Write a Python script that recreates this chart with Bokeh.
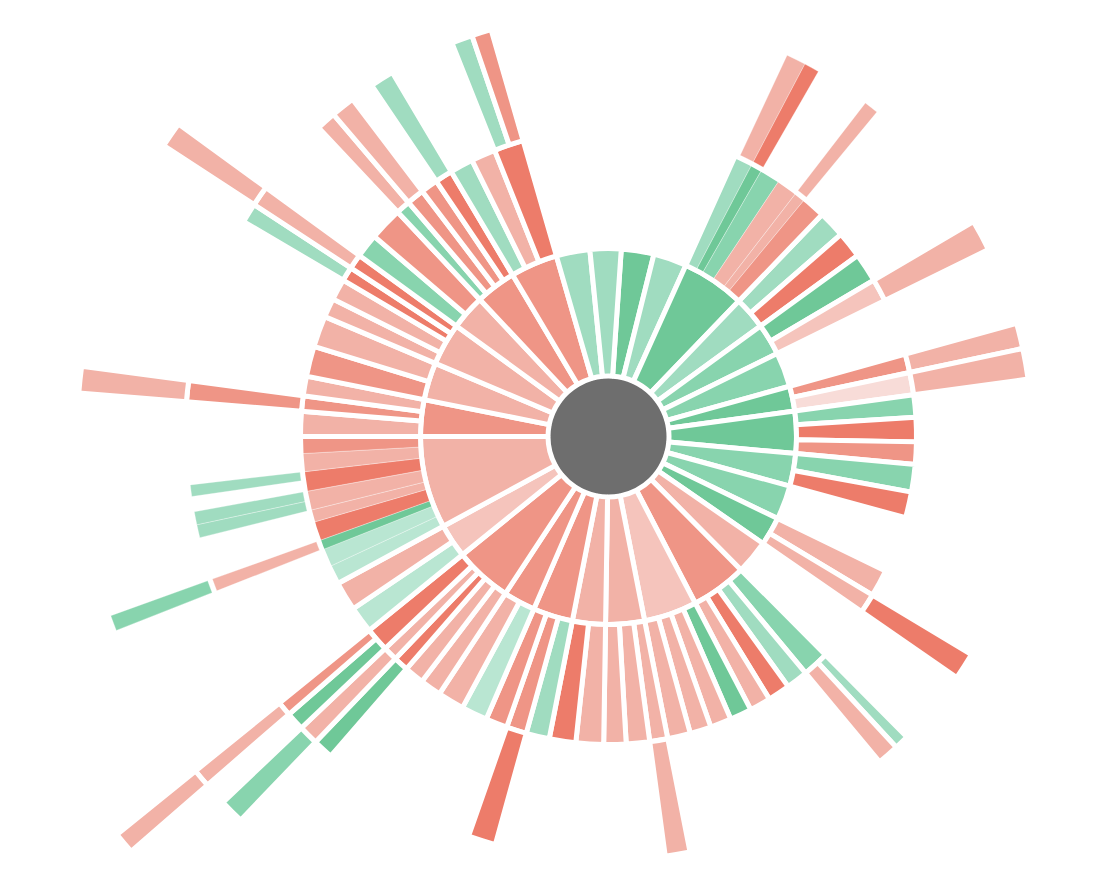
import math
from bokeh.plotting import figure
from bokeh.models import Range1d
from bokeh.embed import file_html
from bokeh.resources import INLINE

PALETTE = {
    "g1": "#b9e6d2", "g2": "#a0dcc0", "g3": "#88d4ae", "g4": "#6fc898",
    "r0": "#f8dcd8", "r1": "#f5c4bc", "r2": "#f2b2a7", "r3": "#ef9586", "r4": "#ed7c6a",
}
CENTER_COLOR = "#6e6e6e"

# ---- level 1 (inner ring), clockwise from the start angle ----
L1_SPAN = [10.1, 10.3, 19.6, 10.1, 9.8, 10.7, 7.7, 13.0, 10.1, 10.6,
           8.8, 10.5, 17.3, 16.4, 12.0, 10.2, 12.3, 9.9, 17.7, 10.5,
           28.5, 11.3, 11.6, 13.1, 10.8, 12.5, 14.6, 10.4, 9.6]
L1_COLOR = ["g4", "g2", "g4", "g2", "g3", "g3", "g4", "g4", "g3", "g3",
            "g4", "r2", "r3", "r1", "r2", "r2", "r3", "r3", "r3", "r1",
            "r2", "r3", "r2", "r2", "r2", "r3", "r3", "g2", "g2"]

# ---- level 2 ----
L2_PARENT = [2, 2, 2, 2, 2, 2, 3, 3, 4, 4, 6, 6, 7, 7, 7, 8, 8, 10, 10,
             12, 12, 12, 12, 13, 13, 13, 13, 14, 14, 14, 15, 15, 16, 16, 16,
             17, 17, 18, 18, 18, 18, 18, 19, 19,
             20, 20, 20, 20, 20, 20, 20, 20, 20,
             21, 21, 21, 22, 22, 23, 23, 23, 23, 24, 24, 25, 25, 25, 25, 26, 26, 26]
L2_SPAN = [3.5, 2.1, 3.8, 3.9, 2.0, 4.3, 5.1, 5.0, 5.5, 4.3, 3.5, 4.2, 4.2, 4.6, 4.2, 5.2, 4.9, 5.1, 3.7,
           5.0, 4.1, 4.2, 4.0, 4.1, 4.0, 4.0, 4.3, 3.4, 4.4, 4.2, 5.2, 5.0, 4.4, 3.8, 4.1,
           4.9, 5.0, 4.0, 3.7, 2.8, 2.7, 4.5, 5.0, 5.5,
           3.5, 3.4, 1.8, 3.6, 2.3, 3.6, 3.7, 3.4, 3.2,
           4.7, 2.9, 3.7, 5.7, 5.9, 3.6, 4.0, 2.7, 2.8, 4.5, 6.3, 2.7, 3.3, 3.2, 3.3, 4.4, 4.6, 5.6]
L2_COLOR = ["g2", "g4", "g3", "r2", "r2", "r3", "g2", "r4", "g4", "r1", "r3", "r0", "g3", "r4", "r3", "g3", "r4", "r2", "r2",
            "g3", "g2", "r4", "r2", "g4", "r2", "r2", "r2", "r2", "r2", "r2", "r2", "r4", "g2", "r3", "r3",
            "g1", "r2", "r2", "r2", "r4", "r2", "r4", "g1", "r2",
            "g1", "g1", "g4", "r4", "r2", "r2", "r4", "r2", "r3",
            "r2", "r3", "r2", "r3", "r2", "r2", "r2", "r4", "r4", "g3", "r3", "g3", "r3", "r3", "r4", "g2", "r2", "r4"]

# ---- level 3 ----
L3_PARENT = [0, 1, 4, 9, 10, 11, 18, 19, 19, 27, 33, 39, 40, 41, 41, 46, 49, 49, 50, 54, 60, 61, 64, 65, 67, 70, 70]
L3_SPAN = [2.7, 2.1, 2.0, 4.3, 3.5, 4.2, 3.7, 2.0, 3.0, 3.4, 3.8, 2.8, 2.7, 2.5, 2.0, 1.7, 1.8, 1.8, 1.6,
           2.9, 2.7, 2.8, 2.7, 3.3, 3.3, 2.9, 2.7]
L3_COLOR = ["r2", "r4", "r2", "r2", "r2", "r2", "r4", "g2", "r2", "r2", "r4", "g4", "r2", "g4", "r3", "r2", "g2", "g2", "g2",
            "r3", "g2", "r2", "r2", "r2", "g2", "g2", "r3"]

# ---- level 4 ----
L4_PARENT = [12, 14, 15, 19, 21]
L4_SPAN = [2.7, 2.0, 1.7, 2.9, 2.8]
L4_COLOR = ["g3", "r2", "g3", "r2", "r2"]

# ---- level 5 ----
L5_PARENT = [1]
L5_SPAN = [2.0]
L5_COLOR = ["r2"]

# inner-ring nodes whose descendants are drawn without gaps between them
SEAMLESS_ROOTS = [2, 20]

START_DEG = 3.9
RADII = [60.5, 188.0, 308.0, 423.5, 531.5, 632.5]
GAP = 5


def layout_children(p_start, p_end, parents, spans):
    n = len(spans)
    start = [0.0] * n
    end = [0.0] * n
    for p in range(len(p_start)):
        kids = [i for i in range(n) if parents[i] == p]
        if not kids:
            continue
        total = sum(spans[i] for i in kids)
        cur = p_end[p] - total
        for i in kids:
            start[i] = cur
            cur += spans[i]
            end[i] = cur
    return start, end


s1, e1 = [], []
cur = START_DEG
for v in L1_SPAN:
    s1.append(cur)
    cur += v
    e1.append(cur)
root1 = list(range(len(L1_SPAN)))

s2, e2 = layout_children(s1, e1, L2_PARENT, L2_SPAN)
root2 = [root1[p] for p in L2_PARENT]
s3, e3 = layout_children(s2, e2, L3_PARENT, L3_SPAN)
root3 = [root2[p] for p in L3_PARENT]
s4, e4 = layout_children(s3, e3, L4_PARENT, L4_SPAN)
root4 = [root3[p] for p in L4_PARENT]
s5, e5 = layout_children(s4, e4, L5_PARENT, L5_SPAN)
root5 = [root4[p] for p in L5_PARENT]


def rad(deg):
    return math.radians(90.0 - deg)


p = figure(width=1096, height=870, x_range=Range1d(-608, 488), y_range=Range1d(-434, 436),
           output_backend="svg", toolbar_location=None, min_border=0,
           x_axis_location=None, y_axis_location=None, outline_line_color=None)
p.grid.visible = False

p.circle(x=[0], y=[0], radius=59, fill_color=CENTER_COLOR, line_color=None)


def draw_ring(level, starts, ends, colors, roots):
    r_in, r_out = RADII[level - 1], RADII[level]
    n = len(starts)
    seam = [i for i in range(n) if level > 1 and roots[i] in SEAMLESS_ROOTS]
    normal = [i for i in range(n) if i not in seam]
    if normal:
        p.annular_wedge(x=0, y=0, inner_radius=r_in, outer_radius=r_out,
                        start_angle=[rad(ends[i]) for i in normal],
                        end_angle=[rad(starts[i]) for i in normal],
                        fill_color=[PALETTE[colors[i]] for i in normal],
                        line_color="white", line_width=GAP)
    if not seam:
        return
    if level == 2:
        p.annular_wedge(x=0, y=0, inner_radius=r_in, outer_radius=r_out,
                        start_angle=[rad(ends[i]) for i in seam],
                        end_angle=[rad(starts[i]) for i in seam],
                        fill_color=[PALETTE[colors[i]] for i in seam],
                        line_color="white", line_width=0.7, line_alpha=0.45)
        seam_sorted = sorted(seam, key=lambda i: starts[i])
        runs = []
        for i in seam_sorted:
            if runs and abs(runs[-1][1] - starts[i]) < 1e-6:
                runs[-1][1] = ends[i]
            else:
                runs.append([starts[i], ends[i]])
        p.annular_wedge(x=0, y=0, inner_radius=r_in, outer_radius=r_out,
                        start_angle=[rad(r[1]) for r in runs],
                        end_angle=[rad(r[0]) for r in runs],
                        fill_color=None, line_color="white", line_width=GAP)
    else:
        p.annular_wedge(x=0, y=0, inner_radius=r_in + GAP / 2, outer_radius=r_out - GAP / 2,
                        start_angle=[rad(ends[i]) for i in seam],
                        end_angle=[rad(starts[i]) for i in seam],
                        fill_color=[PALETTE[colors[i]] for i in seam],
                        line_color="white", line_width=0.7, line_alpha=0.45)


draw_ring(1, s1, e1, L1_COLOR, root1)
draw_ring(2, s2, e2, L2_COLOR, root2)
draw_ring(3, s3, e3, L3_COLOR, root3)
draw_ring(4, s4, e4, L4_COLOR, root4)
draw_ring(5, s5, e5, L5_COLOR, root5)

open("out.html", "w").write(file_html(p, INLINE))
